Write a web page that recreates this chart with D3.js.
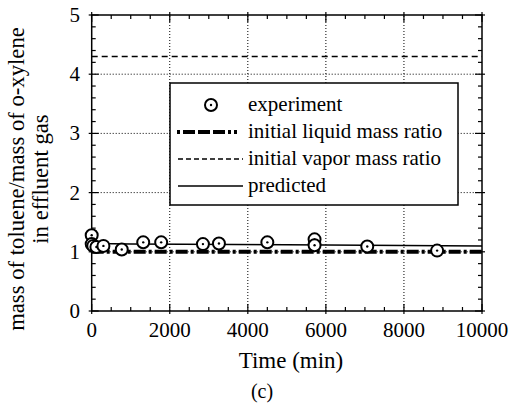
<!DOCTYPE html>
<html><head><meta charset="utf-8">
<script src="https://cdn.jsdelivr.net/npm/d3@7"></script>
<style>body{margin:0;background:#fff}svg{display:block}text{font-family:"Liberation Serif",serif}</style>
</head><body>
<script>
const expTime = [0, 0, 40, 120, 300, 770, 1320, 1780, 2850, 3260, 4500, 5710, 5710, 7060, 8850];
const expRatio = [1.28, 1.13, 1.10, 1.08, 1.10, 1.04, 1.16, 1.16, 1.13, 1.14, 1.16, 1.21, 1.11, 1.09, 1.02];
const predTime = [0, 100, 1000, 5000, 10000];
const predRatio = [1.18, 1.14, 1.13, 1.12, 1.10];
const liquidRatio = 1.0;
const vaporRatio = 4.3;
const xTicks = [0, 2000, 4000, 6000, 8000, 10000];
const yTicks = [0, 1, 2, 3, 4, 5];
const legendLabels = ["experiment", "initial liquid mass ratio", "initial vapor mass ratio", "predicted"];

const W = 509, H = 409;
const svg = d3.select("body").append("svg").attr("width", W).attr("height", H);
const x = d3.scaleLinear().domain([0, 10000]).range([91.7, 482]);
const y = d3.scaleLinear().domain([0, 5]).range([311, 15]);
const font = "Liberation Serif";

// gridlines
const g = svg.append("g");
g.selectAll(".gx").data(xTicks.slice(1, -1)).join("line")
  .attr("x1", d => x(d)).attr("x2", d => x(d)).attr("y1", y(0)).attr("y2", y(5))
  .attr("stroke", "#000").attr("stroke-width", 1).attr("stroke-dasharray", "1,2");
g.selectAll(".gy").data(yTicks.slice(1, -1)).join("line")
  .attr("y1", d => y(d)).attr("y2", d => y(d)).attr("x1", x(0)).attr("x2", x(10000))
  .attr("stroke", "#000").attr("stroke-width", 1).attr("stroke-dasharray", "1,2");

// vapor line
svg.append("line").attr("x1", x(0)).attr("x2", x(10000)).attr("y1", y(vaporRatio)).attr("y2", y(vaporRatio))
  .attr("stroke", "#000").attr("stroke-width", 1.5).attr("stroke-dasharray", "6,4");

// frame and ticks
svg.append("rect").attr("x", x(0)).attr("y", y(5)).attr("width", x(10000) - x(0)).attr("height", y(0) - y(5))
  .attr("fill", "none").attr("stroke", "#000").attr("stroke-width", 1.5);
const xMinor = d3.range(0, 10001, 500);
const yMinor = d3.range(0, 5.001, 0.2);
const tk = svg.append("g").attr("stroke", "#000").attr("stroke-width", 1.2);
xMinor.forEach(v => {
  const major = Math.abs(v % 2000) < 1e-6;
  const len = major ? 7 : 4;
  tk.append("line").attr("x1", x(v)).attr("x2", x(v)).attr("y1", y(0) + (major ? 3 : 0)).attr("y2", y(0) - len);
  tk.append("line").attr("x1", x(v)).attr("x2", x(v)).attr("y1", y(5) - (major ? 3 : 0)).attr("y2", y(5) + len);
});
yMinor.forEach(v => {
  const major = Math.abs(v - Math.round(v)) < 1e-6;
  const len = major ? 7 : 4;
  tk.append("line").attr("y1", y(v)).attr("y2", y(v)).attr("x1", x(0) - (major ? 3 : 0)).attr("x2", x(0) + len);
  tk.append("line").attr("y1", y(v)).attr("y2", y(v)).attr("x1", x(10000) + (major ? 3 : 0)).attr("x2", x(10000) - len);
});

// tick labels
svg.selectAll(".xl").data(xTicks).join("text")
  .attr("x", d => x(d)).attr("y", 337).attr("text-anchor", "middle")
  .attr("font-family", font).attr("font-size", 21).text(d => d);
svg.selectAll(".yl").data(yTicks).join("text")
  .attr("x", 80).attr("y", d => y(d) + 7).attr("text-anchor", "end")
  .attr("font-family", font).attr("font-size", 21).text(d => d);

// liquid ratio line
svg.append("line").attr("x1", x(0)).attr("x2", x(10000)).attr("y1", y(liquidRatio)).attr("y2", y(liquidRatio))
  .attr("stroke", "#000").attr("stroke-width", 4).attr("stroke-dasharray", "12,3,3,3");

// predicted
svg.append("path").datum(predTime.map((t, i) => [t, predRatio[i]]))
  .attr("d", d3.line().x(d => x(d[0])).y(d => y(d[1])))
  .attr("fill", "none").attr("stroke", "#000").attr("stroke-width", 1.5);

// experiment points
const pts = svg.append("g");
expTime.forEach((t, i) => {
  pts.append("circle").attr("cx", x(t)).attr("cy", y(expRatio[i])).attr("r", 6)
    .attr("fill", "#fff").attr("stroke", "#000").attr("stroke-width", 2);
  pts.append("circle").attr("cx", x(t)).attr("cy", y(expRatio[i])).attr("r", 1.2).attr("fill", "#000");
});

// legend
const lg = svg.append("g");
lg.append("rect").attr("x", 170).attr("y", 83).attr("width", 288).attr("height", 122)
  .attr("fill", "#fff").attr("stroke", "#000").attr("stroke-width", 1.5);
const rows = [105, 132, 159, 186];
lg.append("circle").attr("cx", 211).attr("cy", rows[0]).attr("r", 6).attr("fill", "#fff").attr("stroke", "#000").attr("stroke-width", 2);
lg.append("circle").attr("cx", 211).attr("cy", rows[0]).attr("r", 1.2).attr("fill", "#000");
lg.append("line").attr("x1", 177).attr("x2", 243).attr("y1", rows[1]).attr("y2", rows[1])
  .attr("stroke", "#000").attr("stroke-width", 4).attr("stroke-dasharray", "3,3,12,3,12,3,12,3,3");
lg.append("line").attr("x1", 178).attr("x2", 243).attr("y1", rows[2]).attr("y2", rows[2])
  .attr("stroke", "#000").attr("stroke-width", 1.5).attr("stroke-dasharray", "5,3");
lg.append("line").attr("x1", 178).attr("x2", 243).attr("y1", rows[3]).attr("y2", rows[3])
  .attr("stroke", "#000").attr("stroke-width", 1.5);
lg.selectAll(".lt").data(legendLabels).join("text")
  .attr("x", 248).attr("y", (d, i) => rows[i] + 6).attr("font-family", font).attr("font-size", 21).text(d => d);

// axis titles
svg.append("text").attr("x", 291).attr("y", 368).attr("text-anchor", "middle")
  .attr("font-family", font).attr("font-size", 23).text("Time (min)");
const yt = svg.append("text").attr("transform", "translate(24,179) rotate(-90)").attr("text-anchor", "middle")
  .attr("font-family", font).attr("font-size", 22.7);
yt.append("tspan").attr("x", 0).attr("dy", 0).text("mass of toluene/mass of o-xylene");
yt.append("tspan").attr("x", 0).attr("dy", 24).text("in effluent gas");
svg.append("text").attr("x", 262).attr("y", 398).attr("text-anchor", "middle")
  .attr("font-family", font).attr("font-size", 20).text("(c)");
</script>
</body></html>
